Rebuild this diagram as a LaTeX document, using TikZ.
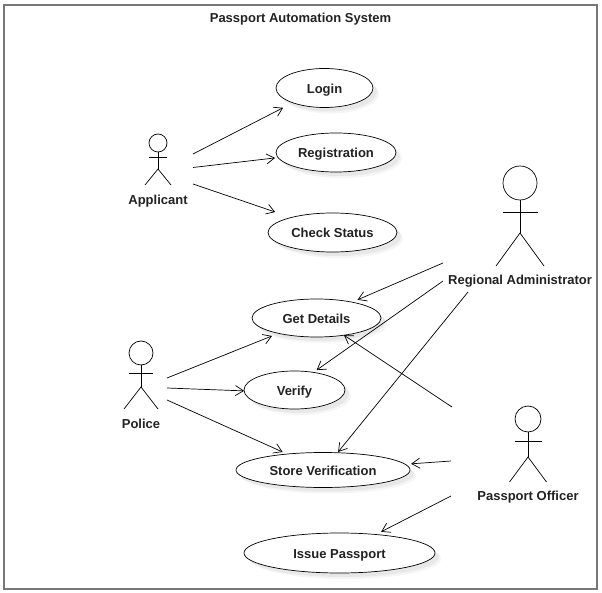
\documentclass[tikz,border=0pt]{standalone}
\usepackage{fontspec}
\setmainfont{Liberation Sans}
\usetikzlibrary{arrows.meta,shadows,shapes.geometric}
\definecolor{framegray}{HTML}{787878}
\definecolor{labelblack}{HTML}{222222}
\tikzset{
  usecase/.style={draw,ellipse,inner sep=0pt,outer sep=0pt,fill=white,line width=0.7pt,text=labelblack,
    font=\fontsize{13}{15}\selectfont\bfseries,text height=10.3pt,text depth=0pt,
    drop shadow={shadow xshift=6pt,shadow yshift=-6pt,fill=black!4,opacity=1},
    drop shadow={shadow xshift=4pt,shadow yshift=-4pt,fill=black!9,opacity=1}},
  actorname/.style={text=labelblack,inner sep=0pt,text height=10.3pt,text depth=0pt,font=\fontsize{13}{15}\selectfont\bfseries},
  assoc/.style={-{Straight Barb[length=8pt,width=10pt]},line width=0.7pt},
  limb/.style={line width=0.7pt}
}
\begin{document}
\begin{tikzpicture}[x=1pt,y=-1pt]
  \useasboundingbox (0,0) rectangle (602,593);
  % System frame
  \draw[framegray,line width=2pt] (4,5) rectangle (596.5,589);
  \node[actorname] (title) at (300.5,17) {Passport Automation System};

  % Use cases
  \node[usecase,minimum width=97pt,minimum height=39pt] (login) at (324.5,88) {Login};
  \node[usecase,minimum width=120pt,minimum height=39pt] (registration) at (336,152.5) {Registration};
  \node[usecase,minimum width=129pt,minimum height=39pt] (status) at (332.5,232.5) {Check Status};
  \node[usecase,minimum width=129pt,minimum height=38pt] (details) at (316.5,318) {Get Details};
  \node[usecase,minimum width=101pt,minimum height=38pt] (verify) at (294.5,390) {Verify};
  \node[usecase,minimum width=174pt,minimum height=35pt] (store) at (323,470) {Store Verification};
  \node[usecase,minimum width=191pt,minimum height=40pt] (issue) at (339.5,553) {Issue Passport};

  % Actors: x / head y / radius / arm half / arm y / hip y / foot half / foot y / label y / name
  \foreach \ax/\hy/\r/\arm/\ay/\hip/\ft/\fy/\ly/\who in {
      158/143/9/9/157.5/169/13/185/199/Applicant,
      141/353/12/12/373/387/17/409/423/Police,
      520/183/17/17.5/212/233/24/266/279/Regional Administrator,
      528/419/13/13.5/441/457/18.5/482/495/Passport Officer} {
    \draw[limb] (\ax,\hy) circle (\r);
    \draw[limb] (\ax,\hy+\r) -- (\ax,\hip);
    \draw[limb] (\ax-\arm,\ay) -- (\ax+\arm,\ay);
    \draw[limb] (\ax-\ft,\fy) -- (\ax,\hip) -- (\ax+\ft,\fy);
    \node[actorname] (name-\ax) at (\ax,\ly) {\who};
  }

  % Free ends next to the actors
  \coordinate (applicant1) at (193,154);
  \coordinate (applicant2) at (193,167.5);
  \coordinate (applicant3) at (193,184);
  \coordinate (police1) at (167,378);
  \coordinate (police2) at (167,388);
  \coordinate (police3) at (167,400);
  \coordinate (regional1) at (443,263);
  \coordinate (regional2) at (443,281);
  \coordinate (regional3) at (468,292);
  \coordinate (officer1) at (452,407);
  \coordinate (officer2) at (451,461);
  \coordinate (officer3) at (451,496);

  % Associations
  \draw[assoc,shorten >=11pt] (applicant1) -- (login.205);
  \draw[assoc,shorten >=3pt] (applicant2) -- (registration.185);
  \draw[assoc,shorten >=17pt] (applicant3) -- (status.160);
  \draw[assoc,shorten >=7pt] (police1) -- (details.202);
  \draw[assoc] (police2) -- (verify.181);
  \draw[assoc,shorten >=5pt] (police3) -- (store.156);
  \draw[assoc,shorten >=6pt] (regional1) -- (details.24);
  \draw[assoc,shorten >=4pt] (regional2) -- (verify.43);
  \draw[assoc,shorten >=1pt] (regional3) -- (store.50);
  \draw[assoc] (officer1) -- (details.328);
  \draw[assoc,shorten >=6pt] (officer2) -- (store.4);
  \draw[assoc,shorten >=6pt] (officer3) -- (issue.27.5);
\end{tikzpicture}
\end{document}
